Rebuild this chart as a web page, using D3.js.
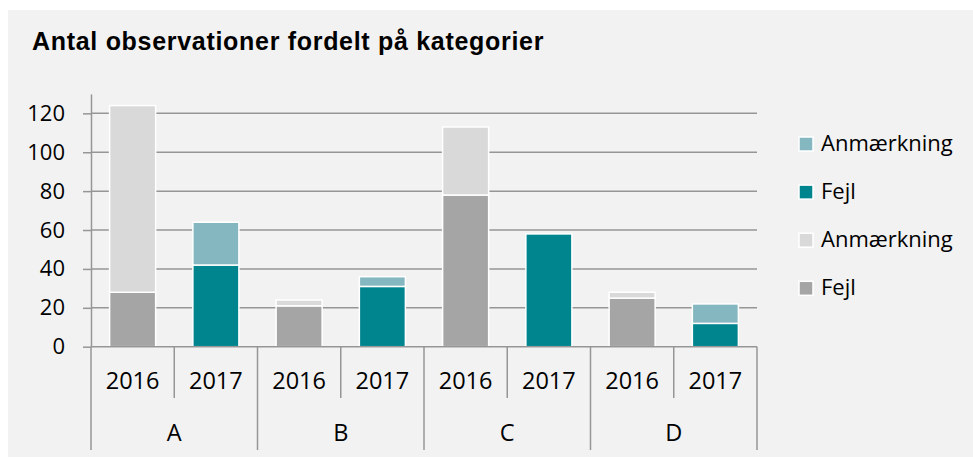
<!DOCTYPE html>
<html>
<head>
<meta charset="utf-8">
<script src="https://cdn.jsdelivr.net/npm/d3@7"></script>
<style>
  body { margin: 0; background: #fff; }
  text { font-family: "Open Sans", sans-serif; fill: #000; }
  .title { font-family: "Liberation Sans", Arial, sans-serif; font-weight: bold; }
</style>
</head>
<body>
<svg id="chart" width="973" height="457"></svg>
<script>
const categories = ["A", "B", "C", "D"];
const years = ["2016", "2017"];
const fejl2016 = [28, 21, 78, 25];
const anm2016 = [96, 3, 35, 3];
const fejl2017 = [42, 31, 58, 12];
const anm2017 = [22, 5, 0, 10];
const yTicks = [0, 20, 40, 60, 80, 100, 120];
const legendItems = [
  { label: "Anmærkning", color: "#84b7bf" },
  { label: "Fejl", color: "#00858f" },
  { label: "Anmærkning", color: "#d9d9d9" },
  { label: "Fejl", color: "#a5a5a5" }
];
const colors = {
  "2016": { fejl: "#a5a5a5", anm: "#d9d9d9" },
  "2017": { fejl: "#00858f", anm: "#84b7bf" }
};

// flatten to one row per bar
const rows = [];
categories.forEach((c, i) => {
  rows.push({ cat: c, year: "2016", fejl: fejl2016[i], anm: anm2016[i] });
  rows.push({ cat: c, year: "2017", fejl: fejl2017[i], anm: anm2017[i] });
});

const svg = d3.select("#chart");

svg.append("rect")
  .attr("x", 8).attr("y", 10)
  .attr("width", 965).attr("height", 447)
  .attr("fill", "#f2f2f2");

svg.append("text")
  .attr("class", "title")
  .attr("x", 32).attr("y", 50)
  .style("font-size", "25px")
  .style("letter-spacing", "0.7px")
  .text("Antal observationer fordelt på kategorier");

const x0 = d3.scaleBand().domain(categories).range([91, 757]);
const x1 = d3.scaleBand().domain(years).range([0, x0.bandwidth()])
  .paddingInner(0.447).paddingOuter(0.2235);
const y = d3.scaleLinear().domain([0, 130]).range([346.7, 93.9]);

// gridlines
svg.append("g")
  .selectAll("line")
  .data(yTicks.filter(d => d > 0))
  .join("line")
  .attr("x1", 91).attr("x2", 757)
  .attr("y1", d => y(d)).attr("y2", d => y(d))
  .attr("stroke", "#969696")
  .attr("stroke-width", 1.5);

// y axis
const yAxis = svg.append("g")
  .attr("transform", "translate(91,0)")
  .call(d3.axisLeft(y).tickValues(yTicks).tickSize(8).tickSizeOuter(0).tickPadding(18));
yAxis.select(".domain").attr("stroke", "#969696").attr("stroke-width", 1.5);
yAxis.selectAll(".tick line").attr("stroke", "#969696").attr("stroke-width", 1.5);
yAxis.selectAll(".tick text")
  .style("font-family", "'Open Sans', sans-serif")
  .style("font-size", "22px")
  .attr("fill", "#000");

// stacked bars
const stack = d3.stack().keys(["fejl", "anm"]);
const layers = stack(rows);

svg.append("g")
  .selectAll("g")
  .data(layers)
  .join("g")
  .selectAll("rect")
  .data(d => d.map(s => ({ key: d.key, s: s })))
  .join("rect")
  .attr("x", d => x0(d.s.data.cat) + x1(d.s.data.year))
  .attr("width", x1.bandwidth())
  .attr("y", d => y(d.s[1]))
  .attr("height", d => y(d.s[0]) - y(d.s[1]))
  .attr("fill", d => colors[d.s.data.year][d.key])
  .attr("stroke", "#fff")
  .attr("stroke-width", 1.5);

// x axis
const xAxis = svg.append("g");
xAxis.append("line")
  .attr("x1", 91).attr("x2", 757)
  .attr("y1", y(0)).attr("y2", y(0))
  .attr("stroke", "#969696").attr("stroke-width", 1.5);

const bounds = categories.map(c => x0(c)).concat([x0.range()[1]]);
xAxis.selectAll(".outer")
  .data(bounds)
  .join("line")
  .attr("x1", d => d).attr("x2", d => d)
  .attr("y1", y(0)).attr("y2", 450)
  .attr("stroke", "#969696").attr("stroke-width", 1.5);

xAxis.selectAll(".inner")
  .data(categories)
  .join("line")
  .attr("x1", d => x0(d) + x0.bandwidth() / 2)
  .attr("x2", d => x0(d) + x0.bandwidth() / 2)
  .attr("y1", y(0)).attr("y2", 398)
  .attr("stroke", "#969696").attr("stroke-width", 1.5);

xAxis.selectAll(".year")
  .data(rows)
  .join("text")
  .attr("x", d => x0(d.cat) + x1(d.year) + x1.bandwidth() / 2)
  .attr("y", 389)
  .attr("text-anchor", "middle")
  .style("font-size", "23.5px")
  .text(d => d.year);

xAxis.selectAll(".cat")
  .data(categories)
  .join("text")
  .attr("x", d => x0(d) + x0.bandwidth() / 2)
  .attr("y", 441)
  .attr("text-anchor", "middle")
  .style("font-size", "23.5px")
  .text(d => d);

// legend
const legend = svg.append("g")
  .selectAll("g")
  .data(legendItems)
  .join("g")
  .attr("transform", (d, i) => `translate(799, ${144 + i * 48.1})`);

legend.append("rect")
  .attr("x", 0).attr("y", -7)
  .attr("width", 14).attr("height", 14)
  .attr("fill", d => d.color)
  .attr("stroke", "#fff")
  .attr("stroke-width", 1.5);

legend.append("text")
  .attr("x", 22).attr("y", 7)
  .style("font-size", "22px")
  .text(d => d.label);
</script>
</body>
</html>
